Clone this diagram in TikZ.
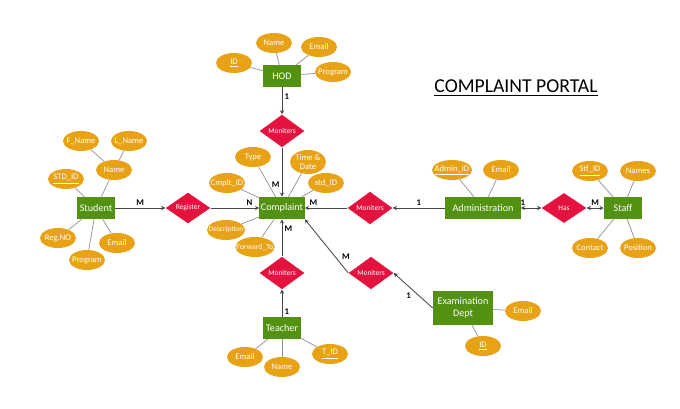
\documentclass[tikz,border=0pt]{standalone}
\usepackage{fontspec}
\setmainfont{Carlito}
\usepackage{tikz}
\usetikzlibrary{shapes.geometric, arrows.meta, positioning}
\definecolor{erorange}{RGB}{232,162,22}
\definecolor{ergreen}{RGB}{82,145,18}
\definecolor{erred}{RGB}{228,18,62}
\definecolor{erline}{RGB}{145,145,145}
\definecolor{erdark}{RGB}{70,70,70}
\tikzset{
  entity/.style={rectangle, fill=ergreen, text=white,
    minimum width=0.95cm, minimum height=0.55cm, inner sep=1pt,
    font=\fontsize{7.2}{8.4}\selectfont},
  attr/.style={ellipse, fill=erorange, text=white,
    minimum width=0.9cm, minimum height=0.5cm, inner sep=0pt,
    font=\fontsize{6.1}{6.8}\selectfont,
    execute at begin node={\hbox to 0pt\bgroup\hss},
    execute at end node={\hss\egroup}},
  rel/.style={diamond, fill=erred, text=white,
    minimum width=1.12cm, minimum height=0.75cm, inner sep=0pt,
    font=\fontsize{5.3}{6}\selectfont},
  conn/.style={-{Stealth[length=3pt, width=3pt]}, line width=0.6pt, color=erdark},
  both/.style={{Stealth[length=3pt, width=3pt]}-{Stealth[length=3pt, width=3pt]}, line width=0.6pt, color=erdark},
  attrline/.style={color=erline, line width=0.5pt},
  card/.style={font=\fontsize{6.2}{7}\selectfont\bfseries, text=black, inner sep=1.5pt}
}

\begin{document}
\begin{tikzpicture}[x=0.025cm, y=-0.025cm]
  \useasboundingbox (0,0) rectangle (680,409);

  % Title
  \node[font=\fontsize{14}{16}\selectfont] (title) at (516,88) {\underline{COMPLAINT PORTAL}};

  % HOD
  \node[entity] (hod) at (282,76) {HOD};
  \node[attr] (hodid) at (234,63) {\underline{ID}};
  \node[attr] (hodname) at (274,43) {Name};
  \node[attr] (hodemail) at (319,47) {Email};
  \node[attr] (hodprog) at (333,72) {Program};
  \node[rel] (monhod) at (282,131) {Moniters};

  % Complaint
  \node[entity] (comp) at (282,208) {Complaint};
  \node[attr] (type) at (253,157) {Type};
  \node[attr, minimum height=0.6cm] (timedate) at (308,162) {\shortstack{Time \&\\Date}};
  \node[attr] (cmpltid) at (227,183) {Cmplt\_ID};
  \node[attr, minimum width=0.95cm, font=\fontsize{5.3}{6}\selectfont] (desc) at (226,230) {Description};
  \node[attr] (stdid2) at (326,183) {std\_ID};
  \node[attr, minimum width=0.98cm, font=\fontsize{5.5}{6}\selectfont] (fwd) at (255,247) {Forward\_To};

  % Student
  \node[entity] (student) at (96,208) {Student};
  \node[attr] (fname) at (81,141) {F\_Name};
  \node[attr] (lname) at (129,141) {L\_Name};
  \node[attr] (sname) at (114,170) {Name};
  \node[attr] (stdid) at (66,179) {\underline{STD\_ID}};
  \node[attr] (regno) at (58,238) {Reg.NO};
  \node[attr] (sprog) at (87,260) {Program};
  \node[attr] (semail) at (117,243) {Email};
  \node[rel] (register) at (188,208) {Register};

  % Administration and Staff
  \node[rel] (monadm) at (370,208) {Moniters};
  \node[entity, minimum width=1.88cm] (admin) at (483,208) {Administration};
  \node[attr, minimum width=1.0cm] (admid) at (452,170) {\underline{Admin\_ID}};
  \node[attr] (admemail) at (501,170) {Email};
  \node[rel] (has) at (564,208) {Has};
  \node[entity] (staff) at (623,208) {Staff};
  \node[attr] (stfid) at (590,171) {\underline{Stf\_ID}};
  \node[attr] (names) at (638,171) {Names};
  \node[attr] (contact) at (590,248) {Contact};
  \node[attr] (position) at (638,248) {Position};

  % Teacher
  \node[rel] (monteach) at (282,273) {Moniters};
  \node[entity] (teacher) at (282,328) {Teacher};
  \node[attr] (temail) at (245,357) {Email};
  \node[attr] (tname) at (282,367) {Name};
  \node[attr] (tid) at (330,354) {\underline{T\_ID}};

  % Examination Dept
  \node[rel] (monexam) at (371,273) {Moniters};
  \node[entity, minimum width=1.5cm, minimum height=0.85cm, align=center] (exam) at (463,308) {Examination\\Dept};
  \node[attr] (examemail) at (523,311) {Email};
  \node[attr] (examid) at (483,346) {\underline{ID}};

  % Attribute lines
  \foreach \a in {hodid, hodname, hodemail, hodprog}
    \draw[attrline] (\a) -- (hod);
  \foreach \a in {type, timedate, cmpltid, stdid2, desc, fwd}
    \draw[attrline] (\a) -- (comp);
  \foreach \a in {fname, lname}
    \draw[attrline] (\a) -- (sname);
  \foreach \a in {sname, stdid, regno, sprog, semail}
    \draw[attrline] (\a) -- (student);
  \foreach \a in {admid, admemail}
    \draw[attrline] (\a) -- (admin);
  \foreach \a in {stfid, names, contact, position}
    \draw[attrline] (\a) -- (staff);
  \foreach \a in {temail, tname, tid}
    \draw[attrline] (\a) -- (teacher);
  \foreach \a in {examemail, examid}
    \draw[attrline] (\a) -- (exam);

  % Relationships
  \draw[conn] (hod) -- node[card, right, pos=0.35] {1} (monhod);
  \draw[conn] (monhod) -- node[card, left, pos=0.75] {M} (comp);
  \draw[conn] (student) -- node[card, above] {M} (register);
  \draw[conn] (register) -- node[card, above, pos=0.8] {N} (comp);
  \draw[conn] (admin) -- node[card, above] {1} (monadm);
  \draw[conn] (monadm) -- node[card, above, pos=0.8] {M} (comp);
  \draw[both] (has) -- node[card, above, pos=0.9] {1} (admin);
  \draw[both] (has) -- node[card, above, pos=0.5] {M} (staff);
  \draw[conn] (teacher) -- node[card, right, pos=0.2] {1} (monteach);
  \draw[conn] (monteach) -- node[card, right, pos=0.75] {M} (comp);
  \draw[conn] (exam.west) -- node[card, below left, pos=0.5] {1} (monexam.east);
  \draw[conn] (monexam.west) -- node[card, above right, pos=0.2] {M} (comp.south east);
\end{tikzpicture}
\end{document}
